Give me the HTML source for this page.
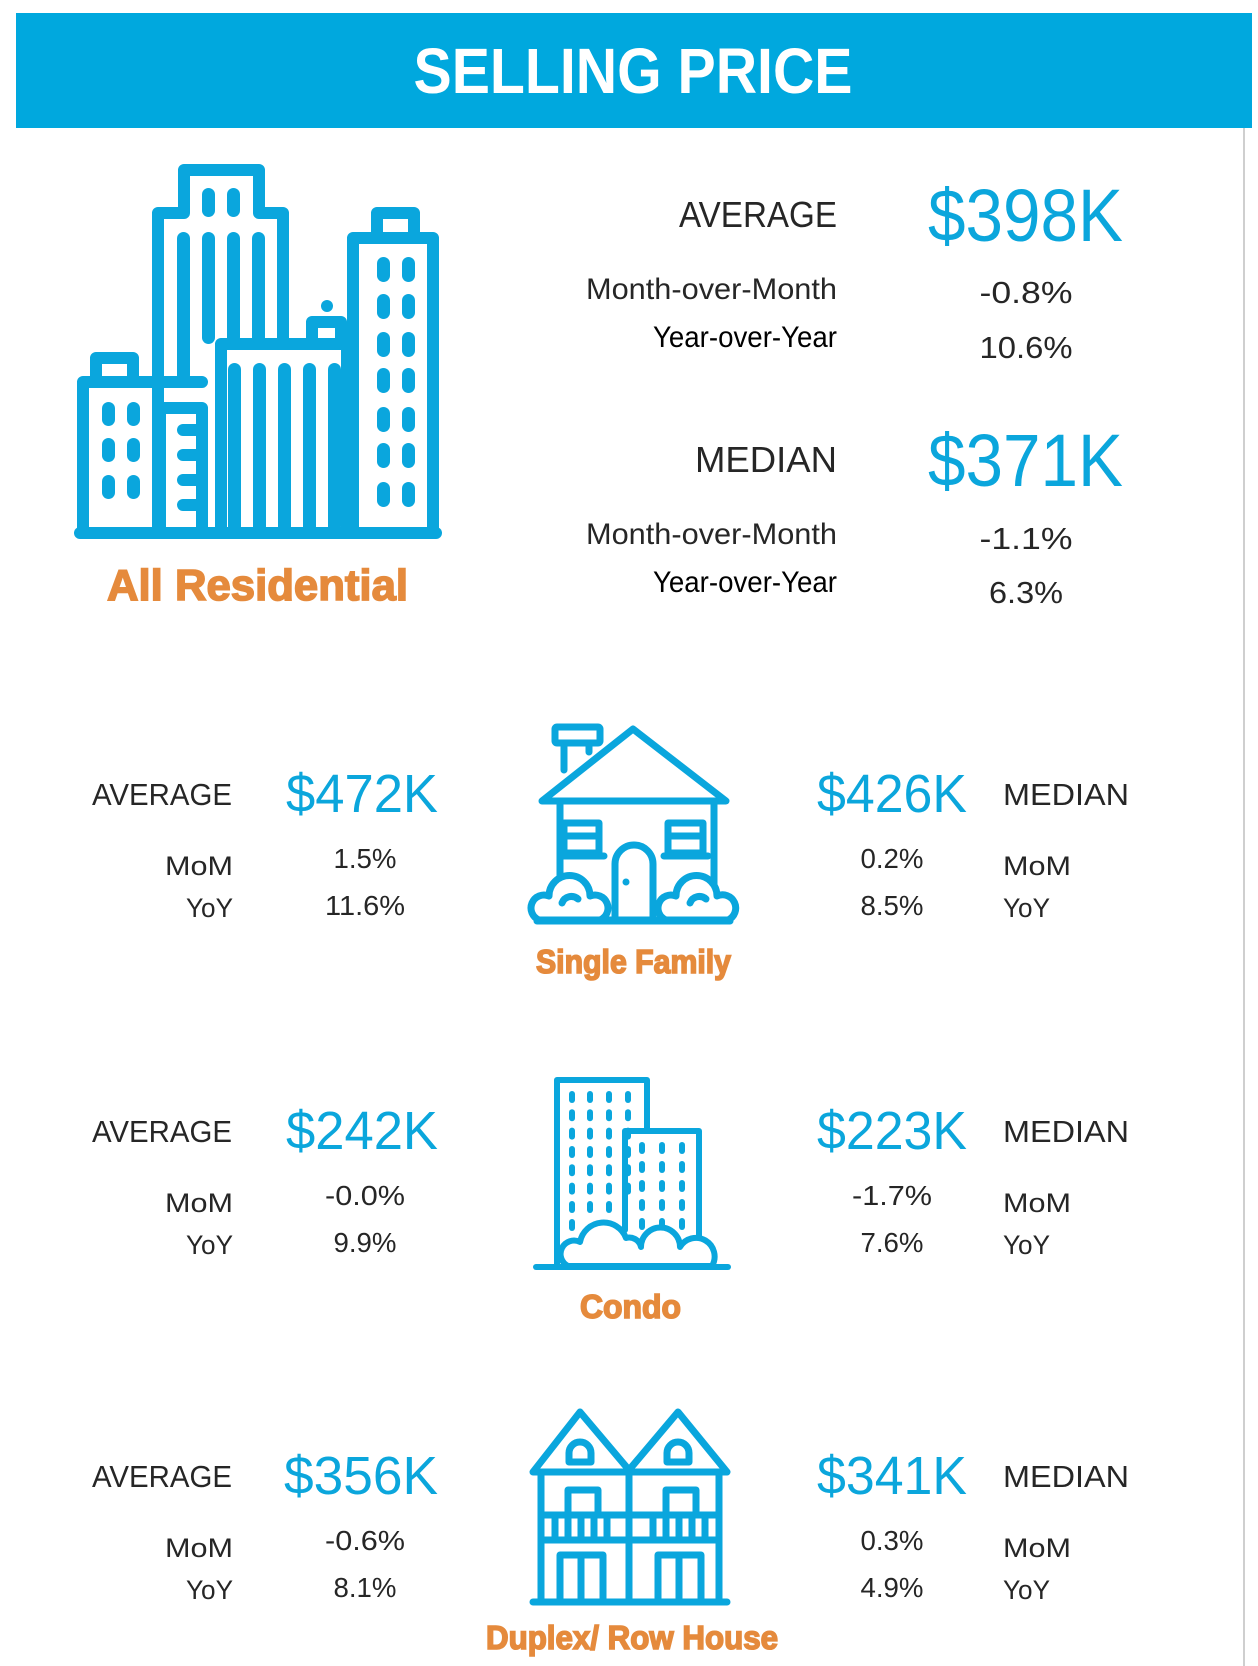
<!DOCTYPE html>
<html><head><meta charset="utf-8"><style>
html,body{margin:0;padding:0;background:#fff;}
svg{display:block;}
text{font-family:"Liberation Sans",sans-serif;}
.lab{fill:#262626;}
.big{fill:#0ba6dc;}
.org{fill:#e58a3c;font-weight:bold;stroke:#e58a3c;stroke-width:1.6;}
.ic{fill:none;stroke:#0aa6dd;stroke-linejoin:round;stroke-linecap:round;}
.pf{fill:#0aa6dd;}
</style></head><body>
<svg width="1258" height="1666" viewBox="0 0 1258 1666" xmlns="http://www.w3.org/2000/svg">
<rect x="16" y="13" width="1236" height="115" fill="#00a8de"/>
<text x="633" y="93" font-size="64" font-weight="bold" fill="#fff" text-anchor="middle" textLength="439" lengthAdjust="spacingAndGlyphs">SELLING PRICE</text>
<line x1="1244" y1="128" x2="1244" y2="1666" stroke="#cfcfcf" stroke-width="2"/>

<!-- All residential icon -->
<g class="ic" stroke-width="12">
<path d="M158,533 V213 H184 V170 H259 V213 H283 V344"/>
<path d="M221,533 V344 H347 V533"/>
<path d="M312,344 V322 H341 V344"/>
<path d="M83,533 V382 H202"/>
<path d="M96,382 V358 H133 V382"/>
<path d="M160,533 V408 H202 V533"/>
<path d="M353,533 V238 H433 V533"/>
<path d="M377,238 V213 H414 V238"/>
<line x1="80" y1="533" x2="436" y2="533"/>
</g>
<g class="pf">
<circle cx="327" cy="306" r="6"/>
<rect x="102" y="402" width="13" height="24" rx="6.5"/><rect x="127" y="402" width="13" height="24" rx="6.5"/>
<rect x="102" y="438" width="13" height="24" rx="6.5"/><rect x="127" y="438" width="13" height="24" rx="6.5"/>
<rect x="102" y="475" width="13" height="24" rx="6.5"/><rect x="127" y="475" width="13" height="24" rx="6.5"/>
<rect x="177" y="424" width="25" height="12" rx="6"/><rect x="177" y="449" width="25" height="12" rx="6"/>
<rect x="177" y="474" width="25" height="12" rx="6"/><rect x="177" y="499" width="25" height="12" rx="6"/>
<rect x="202" y="188" width="13" height="29" rx="6.5"/><rect x="227" y="188" width="13" height="29" rx="6.5"/>
<rect x="177" y="232" width="13" height="150" rx="6.5"/><rect x="202" y="232" width="13" height="112" rx="6.5"/>
<rect x="227" y="232" width="13" height="112" rx="6.5"/><rect x="252" y="232" width="13" height="112" rx="6.5"/>
<rect x="228" y="363" width="13" height="170" rx="6.5"/><rect x="253" y="363" width="13" height="170" rx="6.5"/>
<rect x="278" y="363" width="13" height="170" rx="6.5"/><rect x="303" y="363" width="13" height="170" rx="6.5"/>
<rect x="328" y="363" width="13" height="170" rx="6.5"/>
<g id="rw"><rect x="377" y="257" width="13" height="25" rx="6.5"/><rect x="402" y="257" width="13" height="25" rx="6.5"/></g>
<use href="#rw" y="37"/><use href="#rw" y="75"/><use href="#rw" y="111"/><use href="#rw" y="150"/><use href="#rw" y="186"/><use href="#rw" y="225"/>
</g>
<text class="org" x="107" y="600" font-size="44" textLength="301" lengthAdjust="spacingAndGlyphs">All Residential</text>

<!-- Top stats -->
<text class="lab" x="837" y="227" font-size="36" text-anchor="end" textLength="158" lengthAdjust="spacingAndGlyphs">AVERAGE</text>
<text class="big" x="928" y="241" font-size="74" textLength="195" lengthAdjust="spacingAndGlyphs">$398K</text>
<text class="lab" x="837" y="299" font-size="30" text-anchor="end" textLength="251" lengthAdjust="spacingAndGlyphs">Month-over-Month</text>
<text x="837" y="347" font-size="30" text-anchor="end" fill="#000" textLength="184" lengthAdjust="spacingAndGlyphs">Year-over-Year</text>
<text class="lab" x="1026" y="303" font-size="31" text-anchor="middle" textLength="93" lengthAdjust="spacingAndGlyphs">-0.8%</text>
<text class="lab" x="1026" y="358" font-size="31" text-anchor="middle" textLength="93" lengthAdjust="spacingAndGlyphs">10.6%</text>

<text class="lab" x="837" y="472" font-size="36" text-anchor="end" textLength="142" lengthAdjust="spacingAndGlyphs">MEDIAN</text>
<text class="big" x="928" y="486" font-size="74" textLength="195" lengthAdjust="spacingAndGlyphs">$371K</text>
<text class="lab" x="837" y="544" font-size="30" text-anchor="end" textLength="251" lengthAdjust="spacingAndGlyphs">Month-over-Month</text>
<text x="837" y="592" font-size="30" text-anchor="end" fill="#000" textLength="184" lengthAdjust="spacingAndGlyphs">Year-over-Year</text>
<text class="lab" x="1026" y="549" font-size="31" text-anchor="middle" textLength="93" lengthAdjust="spacingAndGlyphs">-1.1%</text>
<text class="lab" x="1026" y="603" font-size="31" text-anchor="middle" textLength="74" lengthAdjust="spacingAndGlyphs">6.3%</text>

<!-- Row texts -->
<g id="r1">
<text class="lab" x="232" y="805" font-size="31" text-anchor="end" textLength="140" lengthAdjust="spacingAndGlyphs">AVERAGE</text>
<text class="lab" x="233" y="875" font-size="27" text-anchor="end" textLength="68" lengthAdjust="spacingAndGlyphs">MoM</text>
<text class="lab" x="233" y="917" font-size="27" text-anchor="end" textLength="47" lengthAdjust="spacingAndGlyphs">YoY</text>
<text class="lab" x="1003" y="805" font-size="31" textLength="126" lengthAdjust="spacingAndGlyphs">MEDIAN</text>
<text class="lab" x="1003" y="875" font-size="27" textLength="68" lengthAdjust="spacingAndGlyphs">MoM</text>
<text class="lab" x="1003" y="917" font-size="27" textLength="47" lengthAdjust="spacingAndGlyphs">YoY</text>
</g>
<use href="#r1" y="337"/><use href="#r1" y="682"/>

<text class="big" x="286" y="812" font-size="54" textLength="152" lengthAdjust="spacingAndGlyphs">$472K</text>
<text class="big" x="817" y="812" font-size="54" textLength="150" lengthAdjust="spacingAndGlyphs">$426K</text>
<text class="lab" x="365" y="868" font-size="28" text-anchor="middle" textLength="63" lengthAdjust="spacingAndGlyphs">1.5%</text>
<text class="lab" x="365" y="915" font-size="28" text-anchor="middle" textLength="80" lengthAdjust="spacingAndGlyphs">11.6%</text>
<text class="lab" x="892" y="868" font-size="28" text-anchor="middle" textLength="63" lengthAdjust="spacingAndGlyphs">0.2%</text>
<text class="lab" x="892" y="915" font-size="28" text-anchor="middle" textLength="63" lengthAdjust="spacingAndGlyphs">8.5%</text>

<text class="big" x="286" y="1149" font-size="54" textLength="152" lengthAdjust="spacingAndGlyphs">$242K</text>
<text class="big" x="817" y="1149" font-size="54" textLength="150" lengthAdjust="spacingAndGlyphs">$223K</text>
<text class="lab" x="365" y="1205" font-size="28" text-anchor="middle" textLength="80" lengthAdjust="spacingAndGlyphs">-0.0%</text>
<text class="lab" x="365" y="1252" font-size="28" text-anchor="middle" textLength="63" lengthAdjust="spacingAndGlyphs">9.9%</text>
<text class="lab" x="892" y="1205" font-size="28" text-anchor="middle" textLength="80" lengthAdjust="spacingAndGlyphs">-1.7%</text>
<text class="lab" x="892" y="1252" font-size="28" text-anchor="middle" textLength="63" lengthAdjust="spacingAndGlyphs">7.6%</text>

<text class="big" x="284" y="1494" font-size="54" textLength="154" lengthAdjust="spacingAndGlyphs">$356K</text>
<text class="big" x="817" y="1494" font-size="54" textLength="150" lengthAdjust="spacingAndGlyphs">$341K</text>
<text class="lab" x="365" y="1550" font-size="28" text-anchor="middle" textLength="80" lengthAdjust="spacingAndGlyphs">-0.6%</text>
<text class="lab" x="365" y="1597" font-size="28" text-anchor="middle" textLength="63" lengthAdjust="spacingAndGlyphs">8.1%</text>
<text class="lab" x="892" y="1550" font-size="28" text-anchor="middle" textLength="63" lengthAdjust="spacingAndGlyphs">0.3%</text>
<text class="lab" x="892" y="1597" font-size="28" text-anchor="middle" textLength="63" lengthAdjust="spacingAndGlyphs">4.9%</text>

<!-- House -->
<g class="ic" stroke-width="7">
<path d="M564,770 V743 H589 V752"/>
<rect x="555" y="727" width="45" height="16" rx="2"/>
<path d="M542,801 L633,729 L726,801 Z" fill="#fff"/>
<path d="M560,801 V920 H714 V801"/>
<rect x="564" y="823" width="35" height="30"/><line x1="560" y1="856" x2="604" y2="856"/><line x1="564" y1="836" x2="599" y2="836"/>
<rect x="668" y="823" width="35" height="30"/><line x1="664" y1="856" x2="708" y2="856"/><line x1="668" y1="836" x2="703" y2="836"/>
<path d="M615,920 V864 A19,19 0 0 1 653,864 V920"/>
<path d="M539,920 A13,13 0 0 1 549,896 A20,20 0 0 1 590,896 A13,13 0 0 1 600,920 Z" fill="#fff"/>
<path d="M666,920 A13,13 0 0 1 676,896 A20,20 0 0 1 717,896 A13,13 0 0 1 728,920 Z" fill="#fff"/>
<path d="M562,903 A10,10 0 0 1 578,899"/><path d="M690,903 A10,10 0 0 1 706,899"/>
<line x1="537" y1="921" x2="730" y2="921"/>
</g>
<circle cx="626" cy="882" r="3.5" class="pf"/>
<text class="org" x="536" y="973" font-size="33" textLength="195" lengthAdjust="spacingAndGlyphs">Single Family</text>

<!-- Condo -->
<g class="ic" stroke-width="6">
<path d="M557,1265 V1080 H647 V1130"/>
<path d="M625,1230 V1131 H699 V1250"/>
<path d="M568,1266 A12,12 0 0 1 580,1242 A24,24 0 0 1 626,1238 A12,12 0 0 1 641,1247 A19,19 0 0 1 680,1247 A15,15 0 0 1 712,1266 Z" fill="#fff"/>
<line x1="536" y1="1267" x2="728" y2="1267"/>
</g>
<g class="pf">
<g id="cd"><rect x="569" y="1091" width="6" height="12" rx="3"/><rect x="587" y="1091" width="6" height="12" rx="3"/><rect x="606" y="1091" width="6" height="12" rx="3"/><rect x="625" y="1091" width="6" height="12" rx="3"/></g>
<use href="#cd" y="18.3"/><use href="#cd" y="36.6"/><use href="#cd" y="55"/><use href="#cd" y="73.3"/><use href="#cd" y="91.6"/>
<rect x="569" y="1201" width="6" height="12" rx="3"/><rect x="587" y="1201" width="6" height="12" rx="3"/><rect x="606" y="1201" width="6" height="12" rx="3"/>
<rect x="569" y="1219" width="6" height="12" rx="3"/>
<g id="cs"><rect x="639" y="1142" width="6" height="12" rx="3"/><rect x="659" y="1142" width="6" height="12" rx="3"/><rect x="679" y="1142" width="6" height="12" rx="3"/></g>
<use href="#cs" y="19"/><use href="#cs" y="38"/><use href="#cs" y="57"/><use href="#cs" y="76"/>
</g>
<text class="org" x="580" y="1318" font-size="33" textLength="101" lengthAdjust="spacingAndGlyphs">Condo</text>

<!-- Duplex -->
<g class="ic" stroke-width="7">
<path d="M533,1472 L580,1412 L629,1470 L678,1412 L727,1472 Z"/>
<path d="M541,1472 V1602 M629,1472 V1602 M719,1472 V1602"/>
<line x1="533" y1="1602" x2="727" y2="1602"/>
<line x1="541" y1="1515" x2="719" y2="1515"/><line x1="541" y1="1540" x2="719" y2="1540"/>
<path d="M555,1515 V1540 M568,1515 V1540 M581,1515 V1540 M594,1515 V1540 M607,1515 V1540 M653,1515 V1540 M666,1515 V1540 M679,1515 V1540 M692,1515 V1540 M705,1515 V1540"/>
<path d="M568,1515 V1490 H598 V1515 M666,1515 V1490 H696 V1515"/>
<path d="M560,1602 V1555 H603 V1602 M581,1555 V1602 M658,1602 V1555 H701 V1602 M679,1555 V1602"/>
<path d="M569,1462 V1453 A11,11 0 0 1 591,1453 V1462 Z M667,1462 V1453 A11,11 0 0 1 689,1453 V1462 Z"/>
</g>
<text class="org" x="486" y="1649" font-size="33" textLength="292" lengthAdjust="spacingAndGlyphs">Duplex/ Row House</text>
</svg>
</body></html>
